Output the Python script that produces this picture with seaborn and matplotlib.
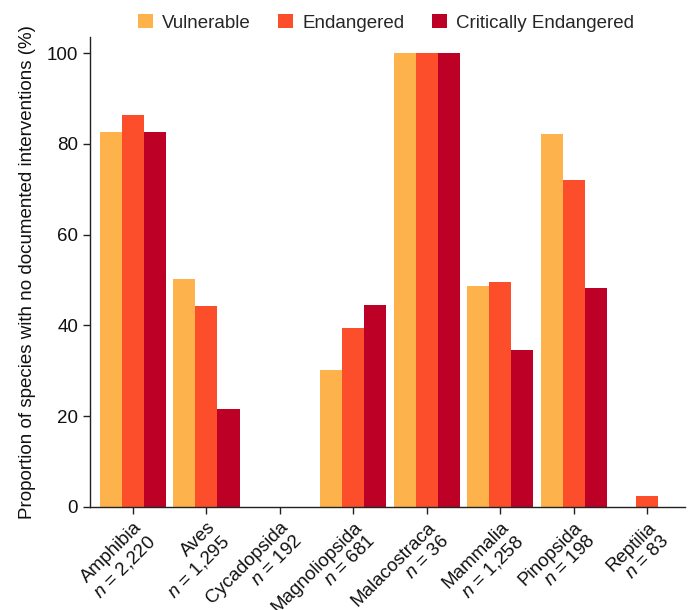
import matplotlib
matplotlib.use("Agg")
import matplotlib.pyplot as plt
import seaborn as sns
import pandas as pd

classes = ["Amphibia", "Aves", "Cycadopsida", "Magnoliopsida",
           "Malacostraca", "Mammalia", "Pinopsida", "Reptilia"]
n_species = ["2,220", "1,295", "192", "681", "36", "1,258", "198", "83"]
vulnerable = [82.6, 50.2, 0.0, 30.2, 100.0, 48.7, 82.2, 0.0]
endangered = [86.3, 44.3, 0.0, 39.4, 100.0, 49.6, 72.0, 2.4]
critically_endangered = [82.6, 21.6, 0.0, 44.5, 100.0, 34.6, 48.2, 0.0]
statuses = ["Vulnerable", "Endangered", "Critically Endangered"]
colors = ["#FEB24C", "#FC4E2A", "#BD0026"]

rows = []
for status, vals in zip(statuses, [vulnerable, endangered, critically_endangered]):
    for c, v in zip(classes, vals):
        rows.append({"class": c, "status": status, "value": v})
df = pd.DataFrame(rows)

sns.set_theme(style="ticks")
plt.rcParams["font.family"] = ["Liberation Sans", "DejaVu Sans"]
plt.rcParams["mathtext.fontset"] = "custom"
plt.rcParams["mathtext.it"] = "Liberation Sans:italic"
plt.rcParams["mathtext.rm"] = "Liberation Sans"

FS = 13.5
fig = plt.figure(figsize=(6.94, 6.10), dpi=100)
ax = fig.add_axes([0.1297, 0.169, 0.858, 0.770])

sns.barplot(data=df, x="class", y="value", hue="status", order=classes,
            hue_order=statuses, palette=colors, width=0.9, saturation=1,
            ax=ax, errorbar=None, linewidth=0, edgecolor="none")

ax.set_ylim(0, 103.5)
ax.set_xlim(-0.585, 7.52)
ax.set_yticks([0, 20, 40, 60, 80, 100])
ax.tick_params(axis="both", labelsize=FS, length=5, width=1, color="#222222",
               labelcolor="#111111")
ax.set_ylabel("Proportion of species with no documented interventions (%)",
              fontsize=FS, color="#111111", labelpad=8)
ax.set_xlabel("")

labels = [f"{c}\n$n$ = {n}" for c, n in zip(classes, n_species)]
ax.set_xticks(range(len(classes)))
ax.set_xticklabels(labels, rotation=45, ha="right", rotation_mode="anchor",
                   multialignment="right", fontsize=FS, linespacing=1.15)

for side in ["top", "right"]:
    ax.spines[side].set_visible(False)
for side in ["left", "bottom"]:
    ax.spines[side].set_color("#222222")
    ax.spines[side].set_linewidth(1)

handles, lbls = ax.get_legend_handles_labels()
ax.get_legend().remove()
fig.legend(handles, lbls, loc="upper center", bbox_to_anchor=(0.556, 1.005),
           ncol=3, frameon=False, fontsize=FS, handlelength=0.8, handleheight=0.8,
           columnspacing=1.45, handletextpad=0.5)

fig.savefig("out.png", dpi=100)
